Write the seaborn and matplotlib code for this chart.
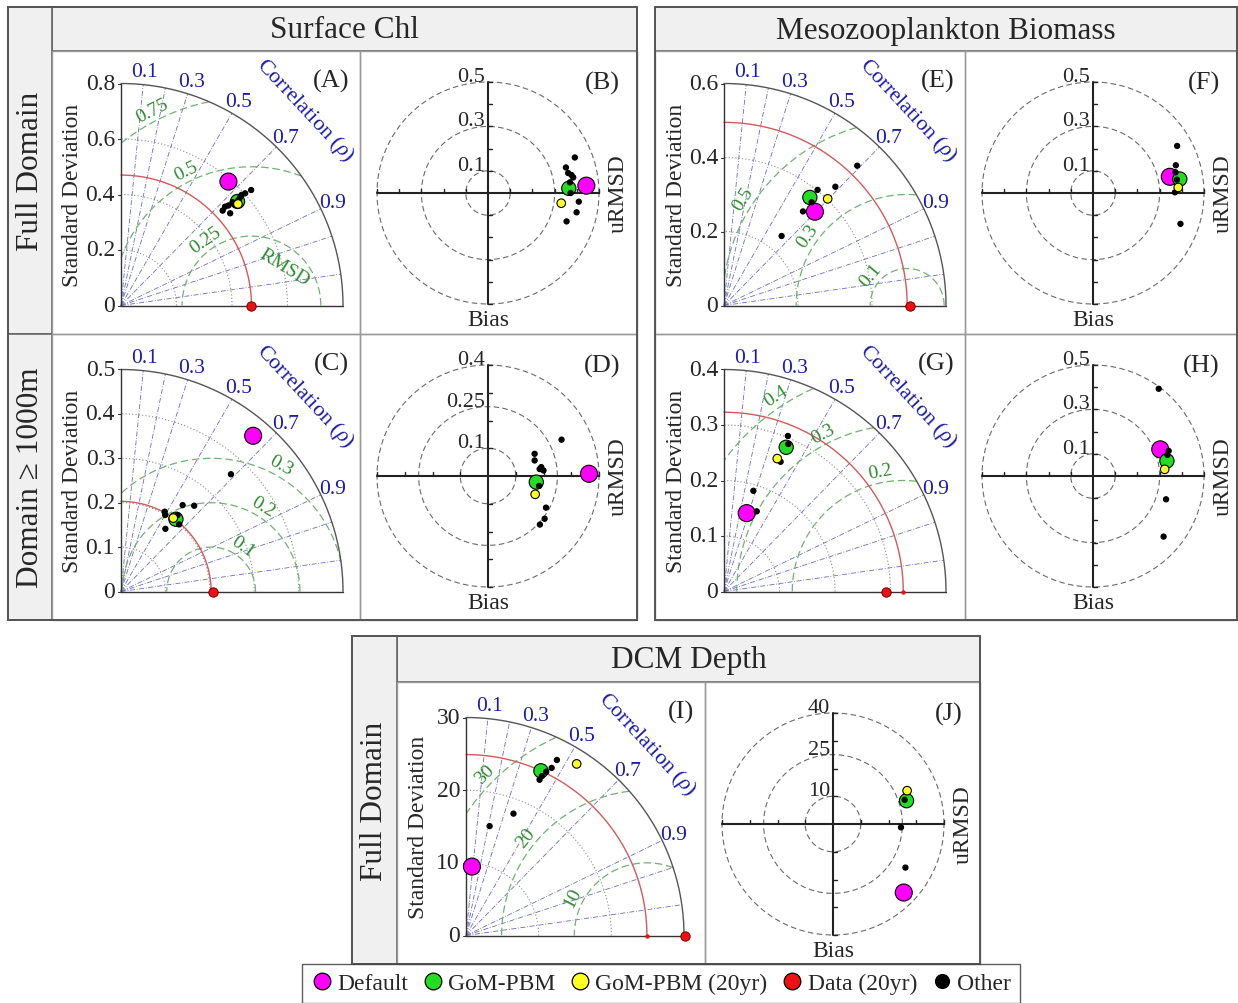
import numpy as np
import pandas as pd
import matplotlib
matplotlib.use("Agg")
import matplotlib.pyplot as plt
from matplotlib.lines import Line2D
import seaborn as sns

# ====================== DATA ======================
# Taylor panels: standard deviation and correlation of each model run
# (A) Surface Chl, full domain
A_std_default, A_cor_default = [0.591], [0.655]
A_std_gom, A_cor_gom = [0.563], [0.746]
A_std_gom20, A_cor_gom20 = [0.558], [0.755]
A_std_other = [0.501, 0.515, 0.517, 0.529, 0.548, 0.569, 0.590, 0.603, 0.627, 0.580, 0.549]
A_cor_other = [0.731, 0.764, 0.725, 0.732, 0.734, 0.744, 0.737, 0.742, 0.748, 0.740, 0.749]
A_ref_std, A_data20_std = 0.470, 0.470
A_sd_ticks = [0, 0.2, 0.4, 0.6, 0.8]
A_sd_labels = ["0", "0.2", "0.4", "0.6", "0.8"]
A_rmsd_levels = [0.25, 0.5, 0.75]
A_rmsd_labels = ["0.25", "0.5", "0.75"]

# (C) Surface Chl, domain >= 1000 m
C_std_default, C_cor_default = [0.460], [0.647]
C_std_gom, C_cor_gom = [0.2045], [0.605]
C_std_gom20, C_cor_gom20 = [0.203], [0.580]
C_std_other = [0.362, 0.239, 0.254, 0.205, 0.199, 0.173, 0.214, 0.200]
C_cor_other = [0.684, 0.581, 0.649, 0.480, 0.500, 0.578, 0.595, 0.655]
C_ref_std, C_data20_std = 0.203, 0.208
C_sd_ticks = [0, 0.1, 0.2, 0.3, 0.4, 0.5]
C_sd_labels = ["0", "0.1", "0.2", "0.3", "0.4", "0.5"]
C_rmsd_levels = [0.1, 0.2, 0.3]
C_rmsd_labels = ["0.1", "0.2", "0.3"]

# (E) Mesozooplankton biomass, full domain
E_std_default, E_cor_default = [0.353], [0.696]
E_std_gom, E_cor_gom = [0.373], [0.622]
E_std_gom20, E_cor_gom20 = [0.402], [0.697]
E_std_other = [0.522, 0.440, 0.402, 0.332, 0.244, 0.366]
E_cor_other = [0.690, 0.684, 0.629, 0.643, 0.638, 0.647]
E_ref_std, E_data20_std = 0.495, 0.502
E_sd_ticks = [0, 0.2, 0.4, 0.6]
E_sd_labels = ["0", "0.2", "0.4", "0.6"]
E_rmsd_levels = [0.1, 0.3, 0.5]
E_rmsd_labels = ["0.1", "0.3", "0.5"]

# (G) Mesozooplankton biomass, domain >= 1000 m
G_std_default, G_cor_default = [0.147], [0.278]
G_std_gom, G_cor_gom = [0.283], [0.396]
G_std_gom20, G_cor_gom20 = [0.258], [0.372]
G_std_other = [0.303, 0.255, 0.189, 0.156, 0.290]
G_cor_other = [0.380, 0.400, 0.280, 0.378, 0.400]
G_ref_std, G_data20_std = 0.323, 0.291
G_sd_ticks = [0, 0.1, 0.2, 0.3, 0.4]
G_sd_labels = ["0", "0.1", "0.2", "0.3", "0.4"]
G_rmsd_levels = [0.2, 0.3, 0.4]
G_rmsd_labels = ["0.2", "0.3", "0.4"]

# (I) DCM depth, full domain
I_std_default, I_cor_default = [9.52], [0.086]
I_std_gom, I_cor_gom = [24.9], [0.414]
I_std_gom20, I_cor_gom20 = [28.1], [0.542]
I_std_other = [27.2, 25.9, 25.1, 23.7, 18.0, 15.4, 24.3]
I_cor_other = [0.460, 0.455, 0.440, 0.427, 0.363, 0.211, 0.430]
I_ref_std, I_data20_std = 24.9, 30.1
I_sd_ticks = [0, 10, 20, 30]
I_sd_labels = ["0", "10", "20", "30"]
I_rmsd_levels = [10, 20, 30]
I_rmsd_labels = ["10", "20", "30"]

CORR_LINES = [0.1, 0.2, 0.3, 0.5, 0.7, 0.9, 0.95, 0.99]
CORR_LABELS = [0.1, 0.3, 0.5, 0.7, 0.9]

# Target panels: x = uRMSD, y = Bias
B_x_default, B_y_default = [0.443], [0.033]
B_x_gom, B_y_gom = [0.364], [0.021]
B_x_gom20, B_y_gom20 = [0.330], [-0.046]
B_x_other = [0.391, 0.351, 0.361, 0.376, 0.384, 0.409, 0.399, 0.354, 0.369, 0.372]
B_y_other = [0.160, 0.115, 0.090, 0.081, 0.070, -0.039, -0.087, -0.128, 0.048, 0.000]
B_rings, B_ring_labels = [0.1, 0.3, 0.5], ["0.1", "0.3", "0.5"]

D_x_default, D_y_default = [0.364], [0.008]
D_x_gom, D_y_gom = [0.174], [-0.022]
D_x_gom20, D_y_gom20 = [0.170], [-0.066]
D_x_other = [0.265, 0.168, 0.168, 0.192, 0.200, 0.186, 0.184, 0.209, 0.204, 0.187]
D_y_other = [0.131, 0.080, 0.056, 0.032, 0.020, 0.025, -0.036, -0.114, -0.154, -0.175]
D_rings, D_ring_labels = [0.1, 0.25, 0.4], ["0.1", "0.25", "0.4"]

F_x_default, F_y_default = [0.346], [0.073]
F_x_gom, F_y_gom = [0.391], [0.063]
F_x_gom20, F_y_gom20 = [0.384], [0.025]
F_x_other = [0.379, 0.373, 0.372, 0.369, 0.394, 0.378]
F_y_other = [0.212, 0.125, 0.093, 0.003, -0.139, 0.060]
F_rings, F_ring_labels = [0.1, 0.3, 0.5], ["0.1", "0.3", "0.5"]

H_x_default, H_y_default = [0.303], [0.120]
H_x_gom, H_y_gom = [0.333], [0.068]
H_x_gom20, H_y_gom20 = [0.323], [0.030]
H_x_other = [0.296, 0.329, 0.318, 0.341, 0.335]
H_y_other = [0.393, -0.105, -0.273, 0.113, 0.095]
H_rings, H_ring_labels = [0.1, 0.3, 0.5], ["0.1", "0.3", "0.5"]

J_x_default, J_y_default = [25.5], [-24.7]
J_x_gom, J_y_gom = [26.5], [8.4]
J_x_gom20, J_y_gom20 = [26.7], [12.0]
J_x_other = [25.8, 24.5, 26.1]
J_y_other = [8.7, -1.2, -15.7]
J_rings, J_ring_labels = [10, 25, 40], ["10", "25", "40"]

COLUMN_TITLES = ["Surface Chl", "Mesozooplankton Biomass", "DCM Depth"]
ROW_TITLES = ["Full Domain", "Domain \u2265 1000m", "Full Domain"]
LEGEND_NAMES = ["Default", "GoM-PBM", "GoM-PBM (20yr)", "Data (20yr)", "Other"]

# ====================== STYLE ======================
sns.set_theme(style="white")
plt.rcParams['font.family'] = ['Liberation Serif', 'DejaVu Serif']
plt.rcParams['mathtext.fontset'] = 'custom'
plt.rcParams['mathtext.rm'] = 'Liberation Serif'
plt.rcParams['mathtext.it'] = 'Liberation Serif:italic'

PALETTE = {"Default": "#ff00ff", "GoM-PBM": "#22dd22", "GoM-PBM (20yr)": "#ffff22",
           "Data (20yr)": "#ee1111", "Other": "black"}
SIZES = {"Default": 150, "GoM-PBM": 105, "Other": 14, "GoM-PBM (20yr)": 38}
BLUE = "#1c1ca8"
GREEN_TXT = "#2e8b2e"

W, H = 1238, 1004
fig = plt.figure(figsize=(W / 100, H / 100), dpi=100)

# overlay for frames / headers
bg = fig.add_axes([0, 0, 1, 1], zorder=0)
bg.set_xlim(0, W)
bg.set_ylim(H, 0)
bg.axis('off')


def rect(x0, y0, x1, y1, fc='none', ec='#666666', lw=1.2):
    bg.add_patch(plt.Rectangle((x0, y0), x1 - x0, y1 - y0, fc=fc, ec=ec, lw=lw))


def make_df(series):
    rows = []
    for name, xs, ys in series:
        for x, y in zip(xs, ys):
            rows.append((name, x, y))
    return pd.DataFrame(rows, columns=["model", "x", "y"])


def polar_df(series):
    out = []
    for name, s, c in series:
        s = np.asarray(s, float)
        c = np.asarray(c, float)
        out.append((name, s * c, s * np.sqrt(1 - c ** 2)))
    return make_df(out)


def panel_axes(box):
    x0, y0, x1, y1 = box
    ax = fig.add_axes([x0 / W, 1 - y1 / H, (x1 - x0) / W, (y1 - y0) / H], zorder=2)
    ax.patch.set_alpha(0)
    return ax


def set_limits(ax, box, ox, oy, ppu):
    x0, y0, x1, y1 = box
    ax.set_xlim((x0 - ox) / ppu, (x1 - ox) / ppu)
    ax.set_ylim((oy - y1) / ppu, (oy - y0) / ppu)
    ax.axis('off')


def scatter(ax, df):
    sns.scatterplot(data=df, x="x", y="y", hue="model", size="model", sizes=SIZES,
                    palette=PALETTE, edgecolor="black", linewidth=0.8, legend=False,
                    ax=ax, zorder=5, clip_on=False)


def taylor(box, R, sd_ticks, sd_labels, sd_grid, ref_std, data20_std, levels, level_labels,
           label_angles, df, letter, radius_px=222, rmsd_word=False):
    x0, y0, x1, y1 = box
    ox, oy = x0 + 69, y1 - 28.5
    ppu = radius_px / R
    ax = panel_axes(box)
    t = np.linspace(0, np.pi / 2, 400)
    for s in sd_grid:
        ax.plot(s * np.cos(t), s * np.sin(t), ls=(0, (1, 2)), color='#8c8c8c', lw=0.8, zorder=1)
    for c in CORR_LINES:
        a = np.arccos(c)
        ax.plot([0, R * np.cos(a)], [0, R * np.sin(a)], ls=(0, (6, 2, 1, 2)),
                color='#6b6bc0', lw=0.6, zorder=1)
    th = np.linspace(0, np.pi, 800)
    for lev, lab, ang in zip(levels, level_labels, label_angles):
        xs = ref_std + lev * np.cos(th)
        ys = lev * np.sin(th)
        bad = (np.hypot(xs, ys) > R) | (xs < 0)
        ax.plot(np.where(bad, np.nan, xs), ys, ls=(0, (6, 3)), color='#6fb36f', lw=0.9, zorder=1)
        a = np.radians(ang)
        rl = lev + 11 / ppu
        ax.text(ref_std + rl * np.cos(a), rl * np.sin(a), lab, color=GREEN_TXT, fontsize=14,
                rotation=ang - 90, ha='center', va='center', rotation_mode='anchor', zorder=3)
    if rmsd_word:
        ax.text(0.587, 0.139, "RMSD", color=GREEN_TXT, fontsize=14, rotation=-32,
                ha='center', va='center', rotation_mode='anchor')
    ax.plot(ref_std * np.cos(t), ref_std * np.sin(t), color='#d25a5a', lw=1.0, zorder=2)
    ax.plot(R * np.cos(t), R * np.sin(t), color='#555555', lw=1.0, zorder=3)
    ax.plot([0, 0], [0, R], color='#333333', lw=1.0, zorder=3)
    ax.plot([0, R], [0, 0], color='#333333', lw=1.0, zorder=3)
    for v, lab in zip(sd_ticks, sd_labels):
        ax.plot([-3 / ppu, 0], [v, v], color='#333333', lw=0.8)
        ax.text(-6 / ppu, v, lab, ha='right', va='center', fontsize=17)
    ax.text(-48 / ppu, 0.5 * R, "Standard Deviation", rotation=90, ha='center', va='center',
            fontsize=17)
    for c in CORR_LABELS:
        a = np.arccos(c)
        ax.text(1.06 * R * np.cos(a), 1.06 * R * np.sin(a), f"{c:g}", color=BLUE,
                fontsize=15.5, ha='center', va='center')
    a = np.radians(46.7)
    ax.text(1.21 * R * np.cos(a), 1.21 * R * np.sin(a), r"Correlation ($\rho$)", color=BLUE,
            fontsize=16, rotation=-47, ha='center', va='center', rotation_mode='anchor')
    scatter(ax, df)
    ax.scatter([ref_std], [0], s=10, color=PALETTE["Data (20yr)"], lw=0, zorder=6, clip_on=False)
    ax.scatter([data20_std], [0], s=45, color=PALETTE["Data (20yr)"], edgecolor='#700000',
               lw=0.7, zorder=7, clip_on=False)
    set_limits(ax, box, ox, oy, ppu)
    ax.text(1 - 11 / (x1 - x0), 1 - 18 / (y1 - y0), letter, transform=ax.transAxes,
            ha='right', va='top', fontsize=19)
    return ax


def target(box, rings, ring_labels, step, df, letter):
    x0, y0, x1, y1 = box
    R = rings[-1]
    ppu = 111 / R
    cx, cy = x0 + 128, y0 + 142
    ax = panel_axes(box)
    t = np.linspace(0, 2 * np.pi, 500)
    for r in rings:
        ax.plot(r * np.cos(t), r * np.sin(t), ls=(0, (5, 3)), color='#6a6a6a', lw=0.8, zorder=1)
    ax.plot([-R, R], [0, 0], color='#222222', lw=1.5, zorder=2)
    ax.plot([0, 0], [-R, R], color='#222222', lw=1.5, zorder=2)
    for k in range(1, int(round(R / step)) + 1):
        for v in (k * step, -k * step):
            ax.plot([v, v], [0, 4 / ppu], color='#222222', lw=1.0, zorder=2)
            ax.plot([0, 4 / ppu], [v, v], color='#222222', lw=1.0, zorder=2)
    for r, lab in zip(rings, ring_labels):
        ax.text(-3 / ppu, r + 1 / ppu, lab, ha='right', va='baseline', fontsize=16)
    ax.text(R + 19 / ppu, 0, "uRMSD", rotation=90, ha='center', va='center', fontsize=17)
    ax.text(0, -R - 5 / ppu, "Bias", ha='center', va='top', fontsize=17)
    scatter(ax, df)
    set_limits(ax, box, cx, cy, ppu)
    ax.text(1 - 17 / (x1 - x0), 1 - 20 / (y1 - y0), letter, transform=ax.transAxes,
            ha='right', va='top', fontsize=19)
    return ax


def tdf(d, g, g20, o):
    return polar_df([("Default",) + d, ("GoM-PBM",) + g, ("Other",) + o, ("GoM-PBM (20yr)",) + g20])


def xdf(d, g, g20, o):
    return make_df([("Default",) + d, ("GoM-PBM",) + g, ("Other",) + o, ("GoM-PBM (20yr)",) + g20])


# ====================== FRAMES ======================
rect(52, 8, 637, 52, fc='#f0f0f0')
rect(655, 8, 1237, 52, fc='#f0f0f0')
rect(397, 637, 980, 683, fc='#f0f0f0')
rect(8, 8, 52, 335, fc='#f0f0f0')
rect(8, 335, 52, 621, fc='#f0f0f0')
rect(352, 637, 397, 965, fc='#f0f0f0')
for bx in [(52, 52, 360, 335), (360, 52, 637, 335), (52, 335, 360, 621), (360, 335, 637, 621),
           (655, 52, 965, 335), (965, 52, 1237, 335), (655, 335, 965, 621), (965, 335, 1237, 621),
           (397, 683, 705, 965), (705, 683, 980, 965)]:
    rect(*bx, ec='#9a9a9a', lw=1.0)
rect(8, 8, 637, 621, ec='#555555', lw=1.4)
rect(655, 8, 1237, 621, ec='#555555', lw=1.4)
rect(352, 637, 980, 965, ec='#555555', lw=1.4)

bg.text((52 + 637) / 2, 31, COLUMN_TITLES[0], ha='center', va='center', fontsize=22.5)
bg.text((655 + 1237) / 2, 31, COLUMN_TITLES[1], ha='center', va='center', fontsize=22.5)
bg.text((397 + 980) / 2, 661, COLUMN_TITLES[2], ha='center', va='center', fontsize=22.5)
bg.text(31, 171.5, ROW_TITLES[0], rotation=90, ha='center', va='center', fontsize=22.5)
bg.text(31, 478, ROW_TITLES[1], rotation=90, ha='center', va='center', fontsize=22.5)
bg.text(375, 801, ROW_TITLES[2], rotation=90, ha='center', va='center', fontsize=22.5)

# ====================== PANELS ======================
taylor((52, 52, 360, 335), 0.8, A_sd_ticks, A_sd_labels, [0.2, 0.4, 0.6], A_ref_std, A_data20_std,
       A_rmsd_levels, A_rmsd_labels, [125, 116, 117],
       tdf((A_std_default, A_cor_default), (A_std_gom, A_cor_gom), (A_std_gom20, A_cor_gom20),
           (A_std_other, A_cor_other)), "(A)", rmsd_word=True)
taylor((52, 335, 360, 621), 0.5, C_sd_ticks, C_sd_labels, [0.1, 0.2, 0.3, 0.4], C_ref_std,
       C_data20_std, C_rmsd_levels, C_rmsd_labels, [55, 59, 61],
       tdf((C_std_default, C_cor_default), (C_std_gom, C_cor_gom), (C_std_gom20, C_cor_gom20),
           (C_std_other, C_cor_other)), "(C)")
taylor((655, 52, 965, 335), 0.6, E_sd_ticks, E_sd_labels, [0.2, 0.4], E_ref_std, E_data20_std,
       E_rmsd_levels, E_rmsd_labels, [140, 145, 147],
       tdf((E_std_default, E_cor_default), (E_std_gom, E_cor_gom), (E_std_gom20, E_cor_gom20),
           (E_std_other, E_cor_other)), "(E)")
taylor((655, 335, 965, 621), 0.4, G_sd_ticks, G_sd_labels, [0.1, 0.2, 0.3], G_ref_std,
       G_data20_std, G_rmsd_levels, G_rmsd_labels, [101, 117, 123],
       tdf((G_std_default, G_cor_default), (G_std_gom, G_cor_gom), (G_std_gom20, G_cor_gom20),
           (G_std_other, G_cor_other)), "(G)")
taylor((397, 683, 705, 965), 30, I_sd_ticks, I_sd_labels, [10, 20], I_ref_std, I_data20_std,
       I_rmsd_levels, I_rmsd_labels, [153, 141, 135],
       tdf((I_std_default, I_cor_default), (I_std_gom, I_cor_gom), (I_std_gom20, I_cor_gom20),
           (I_std_other, I_cor_other)), "(I)", radius_px=218)

target((360, 52, 637, 335), B_rings, B_ring_labels, 0.1,
       xdf((B_x_default, B_y_default), (B_x_gom, B_y_gom), (B_x_gom20, B_y_gom20),
           (B_x_other, B_y_other)), "(B)")
target((360, 335, 637, 621), D_rings, D_ring_labels, 0.1,
       xdf((D_x_default, D_y_default), (D_x_gom, D_y_gom), (D_x_gom20, D_y_gom20),
           (D_x_other, D_y_other)), "(D)")
target((965, 52, 1237, 335), F_rings, F_ring_labels, 0.1,
       xdf((F_x_default, F_y_default), (F_x_gom, F_y_gom), (F_x_gom20, F_y_gom20),
           (F_x_other, F_y_other)), "(F)")
target((965, 335, 1237, 621), H_rings, H_ring_labels, 0.1,
       xdf((H_x_default, H_y_default), (H_x_gom, H_y_gom), (H_x_gom20, H_y_gom20),
           (H_x_other, H_y_other)), "(H)")
target((705, 683, 980, 965), J_rings, J_ring_labels, 10,
       xdf((J_x_default, J_y_default), (J_x_gom, J_y_gom), (J_x_gom20, J_y_gom20),
           (J_x_other, J_y_other)), "(J)")

# ====================== LEGEND ======================
handles = [Line2D([], [], ls='none', marker='o', markersize=12, markerfacecolor=PALETTE[n],
                  markeredgecolor='black', markeredgewidth=0.9) for n in LEGEND_NAMES]
handles[-1].set_markersize(10)
leg = fig.legend(handles, LEGEND_NAMES, loc='center', bbox_to_anchor=(661 / W, 1 - 984.5 / H),
                 ncol=5, fontsize=17, frameon=True, fancybox=False, handlelength=0.9,
                 handletextpad=0.2, columnspacing=0.6, borderpad=0.38, borderaxespad=0,
                 edgecolor='#333333')
leg.get_frame().set_linewidth(1.0)

fig.savefig("out.png", dpi=100)
